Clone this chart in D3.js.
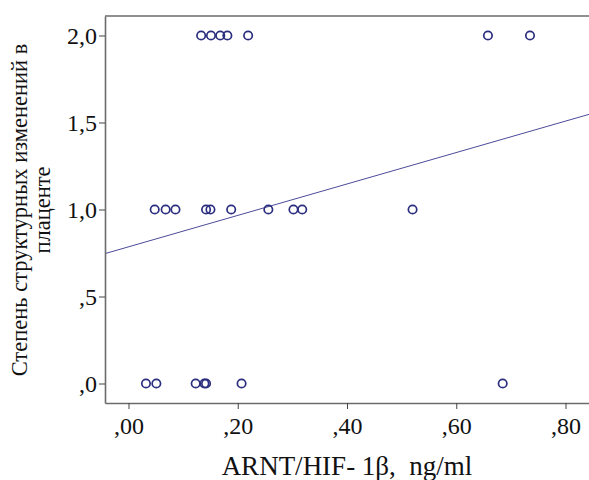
<!DOCTYPE html>
<html>
<head>
<meta charset="utf-8">
<script src="https://cdn.jsdelivr.net/npm/d3@7"></script>
<style>
  body { margin: 0; background: #fff; }
  svg text { font-family: "Liberation Serif", "Times New Roman", "DejaVu Serif", serif; }
</style>
</head>
<body>
<div id="chart"></div>
<script>
// ARNT/HIF-1b (ng/ml) per grade of placental change
const xGrade2 = [0.133, 0.151, 0.168, 0.181, 0.219, 0.658, 0.735];
const xGrade1 = [0.048, 0.068, 0.086, 0.142, 0.150, 0.188, 0.256, 0.302, 0.318, 0.520];
const xGrade0 = [0.032, 0.051, 0.123, 0.139, 0.142, 0.207, 0.685];
const grades = [2, 1, 0];
const xTicks = [0, 0.2, 0.4, 0.6, 0.8];
const yTicks = [0, 0.5, 1, 1.5, 2];

const points = [];
[xGrade2, xGrade1, xGrade0].forEach((xs, i) => {
  xs.forEach((x) => points.push({ x, y: grades[i] }));
});

const width = 589;
const height = 480;
const margin = { top: 16, right: 0, bottom: 77, left: 105 };
const serif = '"Liberation Serif", "Times New Roman", "DejaVu Serif", serif';

const svg = d3
  .select("#chart")
  .append("svg")
  .attr("width", width)
  .attr("height", height);

const x = d3
  .scaleLinear()
  .domain([-0.043, 0.843])
  .range([margin.left, width - margin.right]);
const y = d3
  .scaleLinear()
  .domain([-0.112, 2.112])
  .range([height - margin.bottom, margin.top]);

// SPSS-style numbers: comma decimal, no leading zero
const spss = (fmt) => (d) => d3.format(fmt)(d).replace(/^0\./, ",").replace(".", ",");

svg
  .append("clipPath")
  .attr("id", "plot-clip")
  .append("rect")
  .attr("x", margin.left)
  .attr("y", margin.top)
  .attr("width", width - margin.left)
  .attr("height", height - margin.bottom - margin.top);

// least squares fit line
const mx = d3.mean(points, (d) => d.x);
const my = d3.mean(points, (d) => d.y);
const slope =
  d3.sum(points, (d) => (d.x - mx) * (d.y - my)) /
  d3.sum(points, (d) => (d.x - mx) * (d.x - mx));
const icpt = my - slope * mx;
const [x0, x1] = x.domain();

svg
  .append("line")
  .attr("clip-path", "url(#plot-clip)")
  .attr("x1", x(x0))
  .attr("y1", y(icpt + slope * x0))
  .attr("x2", x(x1))
  .attr("y2", y(icpt + slope * x1))
  .attr("stroke", "#4b4b9a")
  .attr("stroke-width", 1);

svg
  .selectAll("circle")
  .data(points)
  .enter()
  .append("circle")
  .attr("cx", (d) => x(d.x))
  .attr("cy", (d) => y(d.y))
  .attr("r", 4.2)
  .attr("fill", "none")
  .attr("stroke", "#2b2e7e")
  .attr("stroke-width", 1.7);

// frame (top line; right side runs off the picture)
svg
  .append("line")
  .attr("x1", margin.left)
  .attr("x2", width)
  .attr("y1", margin.top)
  .attr("y2", margin.top)
  .attr("stroke", "#6b6b6b")
  .attr("stroke-width", 1.6);

const xAxis = svg
  .append("g")
  .attr("transform", `translate(0,${height - margin.bottom})`)
  .call(
    d3.axisBottom(x).tickValues(xTicks).tickFormat(spss(".2f")).tickSize(6).tickSizeOuter(0).tickPadding(8)
  );

const yAxis = svg
  .append("g")
  .attr("transform", `translate(${margin.left},0)`)
  .call(
    d3.axisLeft(y).tickValues(yTicks).tickFormat(spss(".1f")).tickSize(6).tickSizeOuter(0).tickPadding(2)
  );

[xAxis, yAxis].forEach((g) => {
  g.attr("font-family", serif).attr("font-size", 24);
  g.select(".domain").attr("stroke", "#6b6b6b").attr("stroke-width", 1.6);
  g.selectAll(".tick line").attr("stroke", "#444");
  g.selectAll(".tick text").attr("fill", "#111");
});

svg
  .append("text")
  .attr("x", 347)
  .attr("y", 475)
  .attr("text-anchor", "middle")
  .attr("fill", "#111")
  .attr("font-family", serif)
  .attr("font-size", 27)
  .style("white-space", "pre")
  .text("ARNT/HIF- 1β,  ng/ml");

const yTitle = svg
  .append("text")
  .attr("transform", "translate(27,210) rotate(-90)")
  .attr("text-anchor", "middle")
  .attr("fill", "#111")
  .attr("font-family", serif)
  .attr("font-size", 22.5);
yTitle.append("tspan").attr("x", 0).attr("y", 0).text("Степень структурных изменений в");
yTitle.append("tspan").attr("x", 0).attr("y", 23).text("плаценте");
</script>
</body>
</html>
